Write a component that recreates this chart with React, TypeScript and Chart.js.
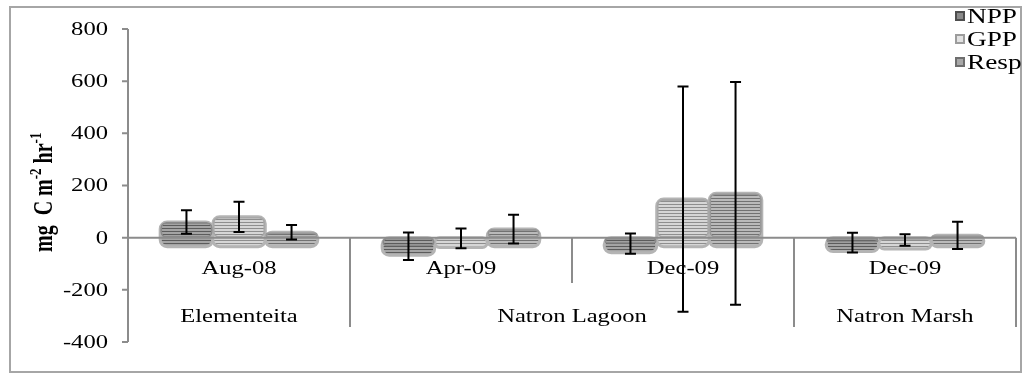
import React, { useEffect, useRef } from 'react';
import { Chart, registerables } from 'chart.js';

Chart.register(...registerables);

// Sampling dates (first category level) and sites (second level)
const categories = ['Aug-08', 'Apr-09', 'Dec-09', 'Dec-09'];
const sites = ['Elementeita', 'Natron Lagoon', 'Natron Lagoon', 'Natron Marsh'];

// Series names and values (mg C m-2 hr-1)
const seriesNames = ['NPP', 'GPP', 'Resp'];
const nppValues = [60, -33, -23, -19];
const gppValues = [80, -3, 148, -9];
const respValues = [21, 33, 170, 9];

// Error bar half-lengths for each series
const nppErrors = [45, 53, 39, 38];
const gppErrors = [58, 38, 432, 22];
const respErrors = [28, 55, 427, 52];

// Value axis
const yMin = -400;
const yMax = 800;
const yStep = 200;

const W = 1026;
const H = 380;
const SX = 1.33; // horizontal text stretch
const FONT = '18.5px "Liberation Serif", "Times New Roman", serif';
const LEGEND_FONT = '20.5px "Liberation Serif", "Times New Roman", serif';
const BOLD = 'bold 20px "Liberation Serif", "Times New Roman", serif';
const BOLD_SUP = 'bold 13px "Liberation Serif", "Times New Roman", serif';
const AXIS = '#8c8c8c';
const DEPTH = 9; // depth of the bevelled bar body below its face

function stripes(dark: string, light: string): CanvasPattern | string {
  const c = document.createElement('canvas');
  c.width = 3;
  c.height = 3;
  const g = c.getContext('2d');
  if (!g) return light;
  g.fillStyle = light;
  g.fillRect(0, 0, 3, 3);
  g.fillStyle = dark;
  g.fillRect(0, 0, 3, 1);
  return g.createPattern(c, 'repeat') || light;
}

function text(
  ctx: CanvasRenderingContext2D,
  s: string,
  x: number,
  y: number,
  align: 'left' | 'center' | 'right',
  font = FONT,
  baseline: CanvasTextBaseline = 'alphabetic'
) {
  ctx.save();
  ctx.font = font;
  ctx.textAlign = 'left';
  ctx.textBaseline = baseline;
  const w = ctx.measureText(s).width * SX;
  const left = align === 'left' ? x : align === 'center' ? x - w / 2 : x - w;
  ctx.translate(left, y);
  ctx.scale(SX, 1);
  ctx.fillStyle = '#000';
  ctx.fillText(s, 0, 0);
  ctx.restore();
}

function roundRect(ctx: CanvasRenderingContext2D, x: number, y: number, w: number, h: number, r: number) {
  const rr = Math.min(r, w / 2, h / 2);
  ctx.beginPath();
  ctx.moveTo(x + rr, y);
  ctx.lineTo(x + w - rr, y);
  ctx.arcTo(x + w, y, x + w, y + rr, rr);
  ctx.lineTo(x + w, y + h - rr);
  ctx.arcTo(x + w, y + h, x + w - rr, y + h, rr);
  ctx.lineTo(x + rr, y + h);
  ctx.arcTo(x, y + h, x, y + h - rr, rr);
  ctx.lineTo(x, y + rr);
  ctx.arcTo(x, y, x + rr, y, rr);
  ctx.closePath();
}

const legendMarkers = [
  { outer: '#4e4e4e', inner: '#8a8a8a' },
  { outer: '#9c9c9c', inner: '#e2e2e2' },
  { outer: '#6e6e6e', inner: '#a8a8a8' },
];

const decorPlugin = {
  id: 'decor',
  beforeDraw(chart: any) {
    const ctx: CanvasRenderingContext2D = chart.ctx;
    ctx.save();
    ctx.fillStyle = '#fff';
    ctx.fillRect(0, 0, chart.width, chart.height);
    ctx.strokeStyle = '#a6a6a6';
    ctx.lineWidth = 2;
    ctx.strokeRect(10, 7, 1011, 365);
    ctx.restore();
  },
  beforeDatasetsDraw(chart: any) {
    // bevelled body of each bar, sitting just below its face
    const ctx: CanvasRenderingContext2D = chart.ctx;
    chart.data.datasets.forEach((ds: any, d: number) => {
      const meta = chart.getDatasetMeta(d);
      meta.data.forEach((el: any) => {
        const top = Math.min(el.y, el.base);
        const bot = Math.max(el.y, el.base) + DEPTH;
        const left = el.x - el.width / 2;
        ctx.save();
        ctx.fillStyle = ds.backgroundColor;
        ctx.strokeStyle = '#b4b4b4';
        ctx.lineWidth = 3;
        roundRect(ctx, left, top, el.width, bot - top, 7);
        ctx.fill();
        ctx.stroke();
        ctx.restore();
      });
    });
  },
  afterDatasetsDraw(chart: any) {
    const ctx: CanvasRenderingContext2D = chart.ctx;
    const xs = chart.scales.x;
    const ys = chart.scales.y;
    const area = chart.chartArea;
    const zeroY = ys.getPixelForValue(0);

    ctx.save();
    ctx.strokeStyle = AXIS;
    ctx.lineWidth = 2;

    // value axis line, tick marks and labels
    ctx.beginPath();
    ctx.moveTo(area.left, area.top);
    ctx.lineTo(area.left, area.bottom);
    for (let v = yMin; v <= yMax; v += yStep) {
      const py = ys.getPixelForValue(v);
      ctx.moveTo(area.left - 6, py);
      ctx.lineTo(area.left, py);
    }
    // category axis along zero
    ctx.moveTo(area.left, zeroY);
    ctx.lineTo(area.right, zeroY);

    // category separators
    const n = categories.length;
    const step = (area.right - area.left) / n;
    for (let k = 1; k <= n; k++) {
      const bx = area.left + k * step;
      const long = k === n || sites[k] !== sites[k - 1];
      ctx.moveTo(bx, zeroY);
      ctx.lineTo(bx, long ? 327 : 283);
    }
    ctx.stroke();
    ctx.restore();

    for (let v = yMin; v <= yMax; v += yStep) {
      text(ctx, String(v), area.left - 20, ys.getPixelForValue(v) + 1, 'right', FONT, 'middle');
    }

    // first level labels
    categories.forEach((c, i) => {
      text(ctx, c, xs.getPixelForValue(i), 274, 'center');
    });
    // second level labels
    let start = 0;
    for (let k = 1; k <= n; k++) {
      if (k === n || sites[k] !== sites[start]) {
        const cx = area.left + ((start + k) / 2) * step;
        text(ctx, sites[start], cx, 322, 'center');
        start = k;
      }
    }

    // error bars
    const errors = [nppErrors, gppErrors, respErrors];
    const values = [nppValues, gppValues, respValues];
    ctx.save();
    ctx.strokeStyle = '#000';
    ctx.lineWidth = 2;
    chart.data.datasets.forEach((_: any, d: number) => {
      const meta = chart.getDatasetMeta(d);
      meta.data.forEach((el: any, i: number) => {
        const top = ys.getPixelForValue(values[d][i] + errors[d][i]);
        const bot = ys.getPixelForValue(values[d][i] - errors[d][i]);
        ctx.beginPath();
        ctx.moveTo(el.x, top);
        ctx.lineTo(el.x, bot);
        ctx.moveTo(el.x - 5.5, top);
        ctx.lineTo(el.x + 5.5, top);
        ctx.moveTo(el.x - 5.5, bot);
        ctx.lineTo(el.x + 5.5, bot);
        ctx.stroke();
      });
    });
    ctx.restore();

    // legend
    seriesNames.forEach((name, i) => {
      const cy = 16 + i * 23;
      const m = legendMarkers[i];
      ctx.save();
      ctx.fillStyle = m.outer;
      ctx.fillRect(955, cy - 5, 10, 10);
      ctx.fillStyle = m.inner;
      ctx.fillRect(957, cy - 3, 6, 6);
      ctx.restore();
      text(ctx, name, 967, cy + 7, 'left', LEGEND_FONT);
    });

    // value axis title with superscripts
    ctx.save();
    ctx.translate(52, 252);
    ctx.scale(SX, 1);
    ctx.rotate(-Math.PI / 2);
    ctx.fillStyle = '#000';
    ctx.textBaseline = 'alphabetic';
    ctx.textAlign = 'left';
    const parts: [string, boolean][] = [
      ['mg  C m', false],
      ['-2', true],
      [' hr', false],
      ['-1', true],
    ];
    let px = 0;
    parts.forEach(([s, sup]) => {
      ctx.font = sup ? BOLD_SUP : BOLD;
      ctx.fillText(s, px, sup ? -8 : 0);
      px += ctx.measureText(s).width;
    });
    ctx.restore();
  },
};

export default function App() {
  const ref = useRef<HTMLCanvasElement | null>(null);

  useEffect(() => {
    if (!ref.current) return;
    const fills = [
      stripes('#5c5c5c', '#a4a4a4'),
      stripes('#8e8e8e', '#d6d6d6'),
      stripes('#727272', '#bababa'),
    ];
    const borders = ['#8a8a8a', '#a8a8a8', '#989898'];
    const series = [nppValues, gppValues, respValues];
    const chart = new Chart(ref.current, {
      type: 'bar',
      data: {
        labels: categories,
        datasets: series.map((vals, i) => ({
          label: seriesNames[i],
          data: vals,
          backgroundColor: fills[i] as any,
          borderColor: borders[i],
          borderWidth: 2,
          borderRadius: 6,
          borderSkipped: false,
          categoryPercentage: 0.71,
          barPercentage: 1,
        })),
      },
      options: {
        responsive: false,
        animation: false,
        devicePixelRatio: 1,
        layout: { padding: { left: 128, right: 10, top: 29, bottom: 38 } },
        plugins: {
          legend: { display: false },
          tooltip: { enabled: false },
        },
        scales: {
          x: { display: false },
          y: { display: false, min: yMin, max: yMax, ticks: { stepSize: yStep } },
        },
      },
      plugins: [decorPlugin],
    });
    return () => chart.destroy();
  }, []);

  return (
    <div style={{ position: 'absolute', left: 0, top: 0, width: W, height: H, background: '#fff' }}>
      <canvas ref={ref} width={W} height={H} style={{ display: 'block' }} />
    </div>
  );
}
